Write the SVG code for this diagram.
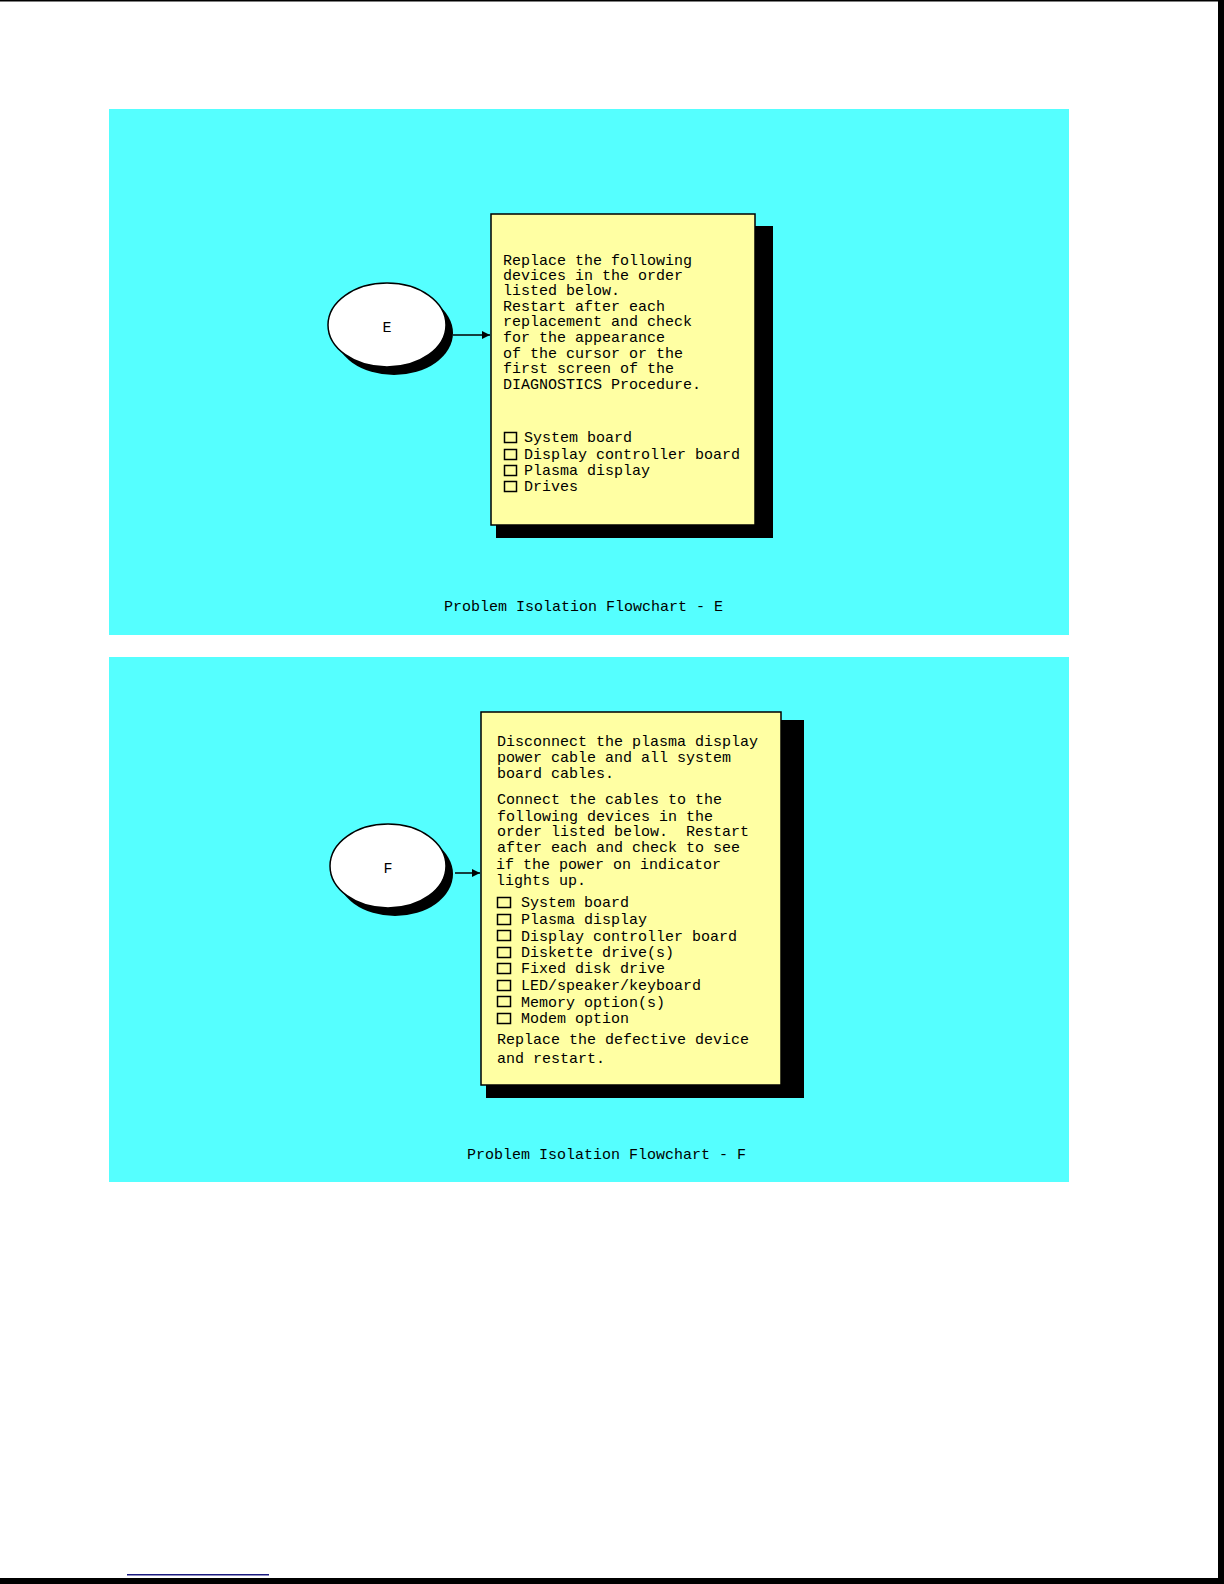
<svg xmlns="http://www.w3.org/2000/svg" width="1224" height="1584" viewBox="0 0 1224 1584">
<style>
.panel{fill:#55FFFF}
.box{fill:#FFFFA3;stroke:#000;stroke-width:1.5}
.shadow{fill:#000}
.oval{fill:#fff;stroke:#000;stroke-width:1.5}
.t{font-family:"Liberation Mono","DejaVu Sans Mono",monospace;font-size:15px;fill:#000;white-space:pre}
.cb{fill:none;stroke:#000;stroke-width:1.5}
.conn{stroke:#000;stroke-width:1.5;fill:none}
</style>
<defs>
<marker id="ah" viewBox="0 0 10 10" refX="10" refY="5" markerWidth="8" markerHeight="9" markerUnits="userSpaceOnUse" orient="auto">
<path d="M0,0 L10,5 L0,10 Z" fill="#000"/>
</marker>
</defs>
<rect width="1224" height="1584" fill="#fff"/>
<rect x="0" y="0" width="1224" height="1.5" fill="#000"/>
<rect x="1218" y="0" width="6" height="1584" fill="#000"/>
<rect x="0" y="1578" width="1224" height="6" fill="#000"/>
<rect x="127" y="1574" width="142" height="1.5" fill="#1a1a80"/>

<g id="panel-e">
<rect class="panel" x="109" y="109" width="960" height="526"/>
</g>
<g id="panel-f">
<rect class="panel" x="109" y="657" width="960" height="525"/>
</g>

<g id="node-e">
<ellipse class="shadow" cx="394" cy="333" rx="59" ry="42"/>
<ellipse class="oval" cx="387" cy="325" rx="59" ry="42"/>
<text class="t" x="387" y="332" text-anchor="middle">E</text>
</g>

<g id="box-e">
<rect class="shadow" x="496" y="226" width="277" height="312"/>
<rect class="box" x="491" y="214" width="264" height="311"/>
<text class="t" x="503" y="265">Replace the following</text>
<text class="t" x="503" y="280">devices in the order</text>
<text class="t" x="503" y="295">listed below.</text>
<text class="t" x="503" y="311">Restart after each</text>
<text class="t" x="503" y="326">replacement and check</text>
<text class="t" x="503" y="342">for the appearance</text>
<text class="t" x="503" y="358">of the cursor or the</text>
<text class="t" x="503" y="373">first screen of the</text>
<text class="t" x="503" y="389">DIAGNOSTICS Procedure.</text>
<rect class="cb" x="504.5" y="432.5" width="12" height="10"/>
<rect class="cb" x="504.5" y="449.5" width="12" height="10"/>
<rect class="cb" x="504.5" y="465.5" width="12" height="10"/>
<rect class="cb" x="504.5" y="481.5" width="12" height="10"/>
<text class="t" x="524" y="442">System board</text>
<text class="t" x="524" y="459">Display controller board</text>
<text class="t" x="524" y="475">Plasma display</text>
<text class="t" x="524" y="491">Drives</text>
</g>

<g id="caption-e">
<text class="t" x="444" y="611">Problem Isolation Flowchart - E</text>
</g>

<g id="node-f">
<ellipse class="shadow" cx="395" cy="874" rx="58" ry="42"/>
<ellipse class="oval" cx="388" cy="866" rx="58" ry="42"/>
<text class="t" x="388" y="873" text-anchor="middle">F</text>
</g>

<g id="box-f">
<rect class="shadow" x="486" y="720" width="318" height="378"/>
<rect class="box" x="481" y="712" width="300" height="373"/>
<text class="t" x="497" y="746">Disconnect the plasma display</text>
<text class="t" x="497" y="762">power cable and all system</text>
<text class="t" x="497" y="778">board cables.</text>
<text class="t" x="497" y="804">Connect the cables to the</text>
<text class="t" x="497" y="821">following devices in the</text>
<text class="t" x="497" y="836" xml:space="preserve">order listed below.  Restart</text>
<text class="t" x="497" y="852">after each and check to see</text>
<text class="t" x="496" y="869">if the power on indicator</text>
<text class="t" x="496" y="885">lights up.</text>
<rect class="cb" x="497.5" y="897.5" width="13" height="10"/>
<rect class="cb" x="497.5" y="914.5" width="13" height="10"/>
<rect class="cb" x="497.5" y="930.5" width="13" height="10"/>
<rect class="cb" x="497.5" y="947.5" width="13" height="10"/>
<rect class="cb" x="497.5" y="963.5" width="13" height="10"/>
<rect class="cb" x="497.5" y="980.5" width="13" height="10"/>
<rect class="cb" x="497.5" y="996.5" width="13" height="10"/>
<rect class="cb" x="497.5" y="1013.5" width="13" height="10"/>
<text class="t" x="521" y="907">System board</text>
<text class="t" x="521" y="924">Plasma display</text>
<text class="t" x="521" y="941">Display controller board</text>
<text class="t" x="521" y="957">Diskette drive(s)</text>
<text class="t" x="521" y="973">Fixed disk drive</text>
<text class="t" x="521" y="990">LED/speaker/keyboard</text>
<text class="t" x="521" y="1007">Memory option(s)</text>
<text class="t" x="521" y="1023">Modem option</text>
<text class="t" x="497" y="1044">Replace the defective device</text>
<text class="t" x="497" y="1063">and restart.</text>
</g>

<g id="caption-f">
<text class="t" x="467" y="1159">Problem Isolation Flowchart - F</text>
</g>

<g id="connectors">
<line class="conn" x1="453" y1="335" x2="490" y2="335" marker-end="url(#ah)"/>
<line class="conn" x1="455" y1="873" x2="480" y2="873" marker-end="url(#ah)"/>
</g>
</svg>
